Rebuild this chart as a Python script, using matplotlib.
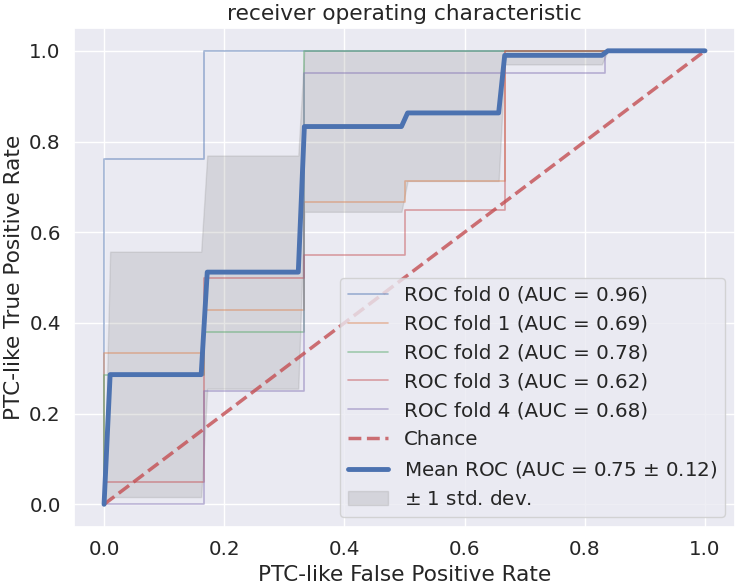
import numpy as np
import matplotlib
matplotlib.use("Agg")
import matplotlib.pyplot as plt
import seaborn as sns

# fold curves
fold_fpr = [
    [0.0, 0.0, 0.1667, 0.1667, 1.0],
    [0.0, 0.0, 0.1667, 0.1667, 0.3333, 0.3333, 0.5, 0.5, 0.6667, 0.6667, 1.0],
    [0.0, 0.0, 0.1667, 0.1667, 0.3333, 0.3333, 1.0],
    [0.0, 0.0, 0.1667, 0.1667, 0.3333, 0.3333, 0.5, 0.5, 0.6667, 0.6667, 1.0],
    [0.0, 0.1667, 0.1667, 0.3333, 0.3333, 0.8333, 0.8333, 1.0],
]
fold_tpr = [
    [0.0, 0.762, 0.762, 1.0, 1.0],
    [0.0, 0.333, 0.333, 0.429, 0.429, 0.667, 0.667, 0.714, 0.714, 1.0, 1.0],
    [0.0, 0.286, 0.286, 0.381, 0.381, 1.0, 1.0],
    [0.0, 0.05, 0.05, 0.5, 0.5, 0.55, 0.55, 0.65, 0.65, 1.0, 1.0],
    [0.0, 0.0, 0.25, 0.25, 0.95, 0.95, 1.0, 1.0],
]
fold_auc = [0.96, 0.69, 0.78, 0.62, 0.68]

# mean curve and +/- 1 std band
mean_fpr = [0.0, 0.0101, 0.1616, 0.1717, 0.3232, 0.3333, 0.4949, 0.5051,
            0.6566, 0.6667, 0.8283, 0.8384, 1.0]
mean_tpr = [0.0, 0.286, 0.286, 0.512, 0.512, 0.833, 0.833, 0.863,
            0.863, 0.990, 0.990, 1.0, 1.0]
tpr_upper = [0.0, 0.557, 0.557, 0.769, 0.769, 1.0, 1.0, 1.0,
             1.0, 1.0, 1.0, 1.0, 1.0]
tpr_lower = [0.0, 0.016, 0.016, 0.255, 0.255, 0.645, 0.645, 0.713,
             0.713, 0.970, 0.970, 1.0, 1.0]
mean_auc, std_auc = 0.75, 0.12

sns.set_theme(font_scale=1.3)
plt.rcParams["font.family"] = ["DejaVu Sans"]
colors = sns.color_palette("deep")

fig, ax = plt.subplots(figsize=(7.38, 5.86), dpi=100)
fig.subplots_adjust(left=0.1003, right=0.996, top=0.952, bottom=0.1007)

for i in range(len(fold_fpr)):
    ax.plot(fold_fpr[i], fold_tpr[i], lw=1.2, alpha=0.5, color=colors[i],
            label=f"ROC fold {i} (AUC = {fold_auc[i]:.2f})")

ax.plot([0, 1], [0, 1], linestyle="--", lw=2.5, color=colors[3],
        label="Chance", alpha=0.8)
ax.plot(mean_fpr, mean_tpr, color=colors[0],
        label=r"Mean ROC (AUC = %0.2f $\pm$ %0.2f)" % (mean_auc, std_auc),
        lw=3.5, alpha=1)
ax.fill_between(mean_fpr, tpr_lower, tpr_upper, color="grey", alpha=0.2,
                label=r"$\pm$ 1 std. dev.")

ax.set_xlim(-0.05, 1.05)
ax.set_ylim(-0.05, 1.05)
ax.set_title("receiver operating characteristic")
ax.set_xlabel("PTC-like False Positive Rate")
ax.set_ylabel("PTC-like True Positive Rate")
ax.legend(loc="lower right")

plt.savefig("out.png", dpi=100)
plt.close()
